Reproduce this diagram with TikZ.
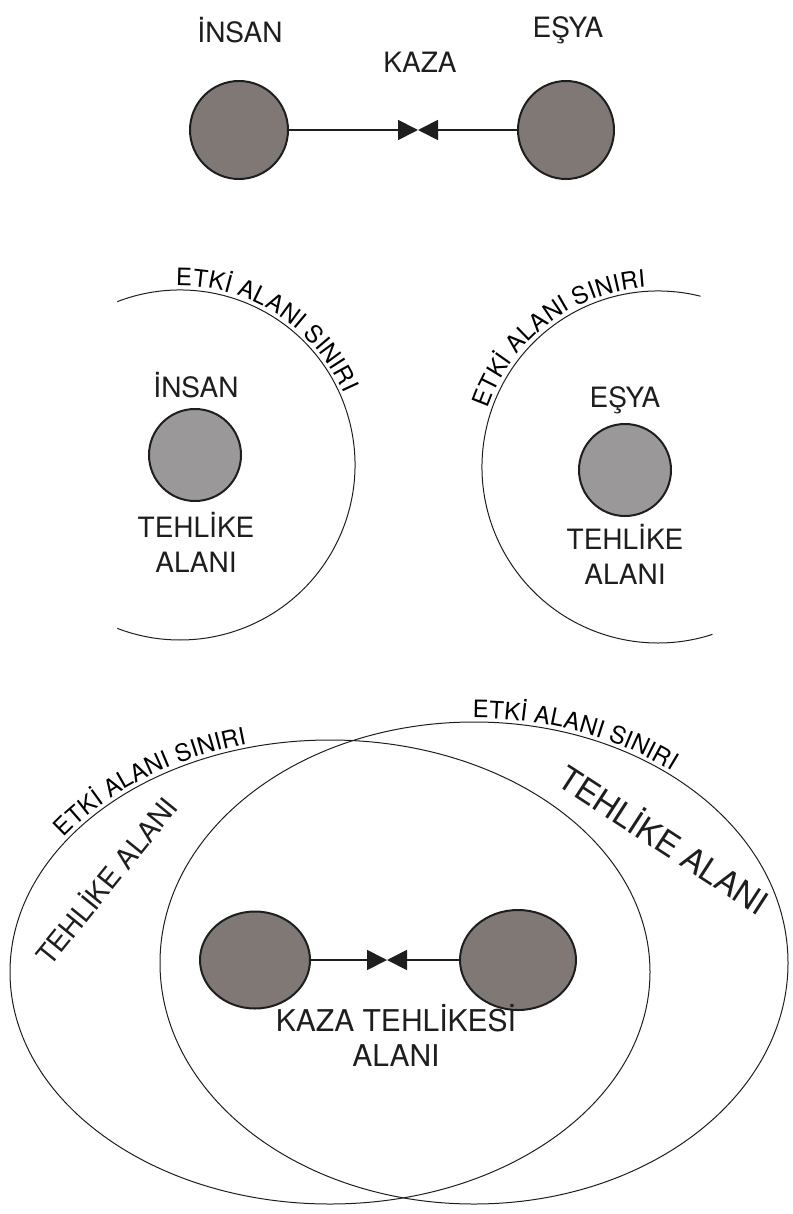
\documentclass[tikz,border=0pt]{standalone}
\usepackage{fontspec}
\setmainfont{TeX Gyre Heros}
\usepackage{tikz}
\usetikzlibrary{arrows.meta, decorations.text, shapes.geometric}
\definecolor{koyugri}{HTML}{7F7875}
\definecolor{acikgri}{HTML}{9A9898}
\definecolor{cizgi}{HTML}{1E1E1E}
\newcommand{\buyuk}{\fontsize{28}{35}\selectfont}
\newcommand{\kucuk}{\fontsize{24}{26}\selectfont}

\begin{document}
\begin{tikzpicture}[x=1pt, y=1pt,
    nesne/.style={ellipse, draw=cizgi, line width=2pt, fill=koyugri, inner sep=0pt},
    etiket/.style={font=\buyuk, text=cizgi, inner sep=0pt, align=center},
    sinir/.style={draw=cizgi, line width=1pt},
    baglanti/.style={cizgi, line width=1.8pt, -{Triangle[length=20pt, width=20pt]}},
    yazi/.style={decorate, decoration={text along path, text align=center, raise=4pt,
      text={|\kucuk|ETKİ ALANI SINIRI}}}]
  \useasboundingbox (0,0) rectangle (792,-1214);

  \node[nesne, minimum width=98pt, minimum height=98pt] (insan1) at (239,-130) {};
  \node[nesne, minimum width=96pt, minimum height=98pt] (esya1) at (566,-130) {};
  \coordinate (kaza1) at (418,-130);
  \draw[baglanti] (insan1) -- (kaza1);
  \draw[baglanti] (esya1) -- (kaza1);
  \node[etiket] (insanyazi1) at (240,-30) {İNSAN};
  \node[etiket] (esyayazi1) at (568,-30) {EŞYA};
  \node[etiket] (kazayazi) at (420,-62) {KAZA};

  \draw[sinir] (180,-465) ++(111:175pt) arc[start angle=111, end angle=-111, radius=175pt];
  \path[yazi] (180,-465) ++(125:175pt) arc[start angle=125, end angle=-10, radius=175pt];
  \node[nesne, fill=acikgri, minimum size=92pt] (insan2) at (195,-455) {};
  \node[etiket] (insanyazi2) at (196,-385) {İNSAN};
  \node[etiket] (tehlike2) at (196,-542) {TEHLİKE\\ALANI};

  \draw[sinir] (658,-467) ++(76:176pt) arc[start angle=76, end angle=288, radius=176pt];
  \path[yazi] (658,-467) ++(195:176pt) arc[start angle=195, end angle=60, radius=176pt];
  \node[nesne, fill=acikgri, minimum size=92pt] (esya2) at (625,-470) {};
  \node[etiket] (esyayazi2) at (625,-400) {EŞYA};
  \node[etiket] (tehlike3) at (625,-554) {TEHLİKE\\ALANI};

  \draw[sinir] (330,-972) ellipse[x radius=320pt, y radius=232pt];
  \draw[sinir] (474,-963) ellipse[x radius=314pt, y radius=241pt];
  \path[yazi] (330,-972) ++(178:320pt and 232pt) arc[start angle=178, end angle=80, x radius=320pt, y radius=232pt];
  \path[yazi] (474,-963) ++(115:314pt and 241pt) arc[start angle=115, end angle=23, x radius=314pt, y radius=241pt];
  \node[etiket, rotate=51] (tehlikesol) at (105,-880) {TEHLİKE ALANI};
  \node[etiket, font=\fontsize{33}{35}\selectfont, rotate=-33] (tehlikesag) at (665,-838) {TEHLİKE ALANI};

  \node[nesne, minimum width=110pt, minimum height=97pt] (insan3) at (255,-960) {};
  \node[nesne, minimum width=116pt, minimum height=100pt] (esya3) at (518,-960) {};
  \coordinate (kaza3) at (387,-960);
  \draw[baglanti] (insan3) -- (kaza3);
  \draw[baglanti] (esya3) -- (kaza3);
  \node[etiket, font=\fontsize{30}{35}\selectfont] (kazaalani) at (396,-1035) {KAZA TEHLİKESİ\\ALANI};
\end{tikzpicture}
\end{document}
